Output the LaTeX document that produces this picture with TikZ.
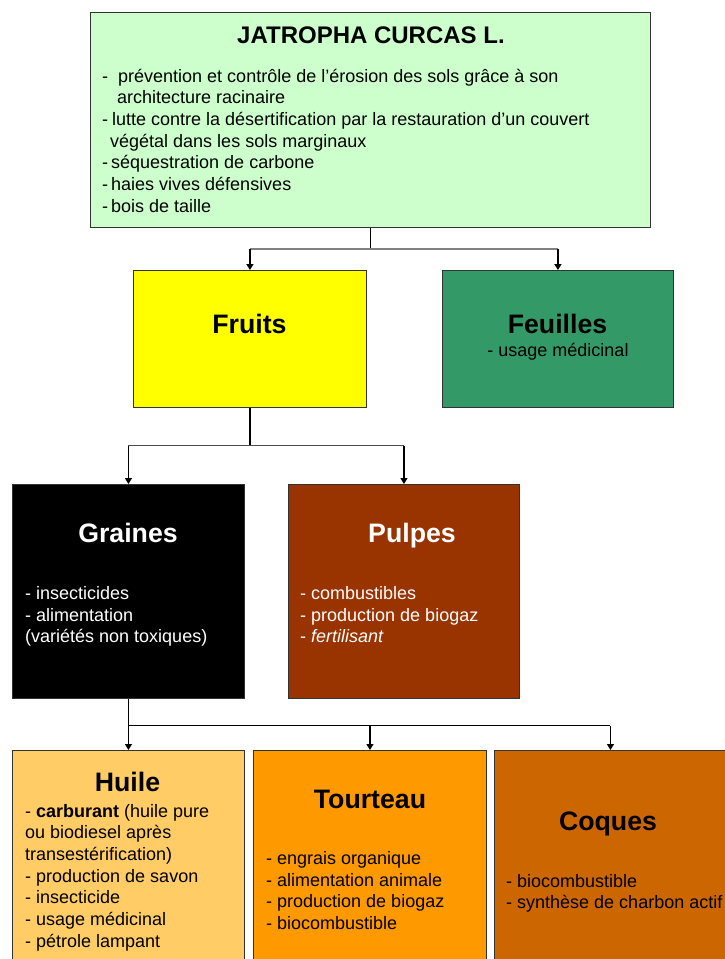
\documentclass[tikz,border=0pt]{standalone}
\usepackage{fontspec}
\setmainfont{Liberation Sans}
\usetikzlibrary{arrows.meta}
\definecolor{cTop}{HTML}{CCFFCC}
\definecolor{cFruit}{HTML}{FFFF00}
\definecolor{cLeaf}{HTML}{339966}
\definecolor{cPulp}{HTML}{993300}
\definecolor{cOil}{HTML}{FFCC66}
\definecolor{cCake}{HTML}{FF9900}
\definecolor{cHull}{HTML}{CC6600}
\definecolor{cLine}{HTML}{333333}
\newcommand{\bodyfont}{\fontsize{18}{21.7}\selectfont}
\newcommand{\txtlines}[2]{\parbox[t]{#1}{\bodyfont\raggedright #2}}
\begin{document}
\begin{tikzpicture}[x=1pt,y=-1pt,
  panel/.style={draw=cLine,line width=0.9pt,anchor=north west,inner sep=0pt},
  ttl/.style={anchor=base,inner sep=0pt,font=\fontsize{26.7}{30}\selectfont\bfseries},
  body/.style={anchor=base west,inner sep=0pt},
  stem/.style={draw=black,line width=1.1pt},
  hbar/.style={draw=black!50,line width=1.8pt},
  hbarthin/.style={draw=black!70,line width=1pt},
  drop/.style={draw=black,line width=1.1pt,-{Triangle[width=7pt,length=6pt]}}]
\useasboundingbox (0,0) rectangle (725,959);
\clip (0,0) rectangle (725,959);
\fill[white] (0,0) rectangle (725,959);
% boxes
\node[panel,fill=cTop,minimum width=560pt,minimum height=215pt] (top) at (90,12) {};
\node[panel,fill=cFruit,minimum width=233pt,minimum height=137pt] (fruits) at (133,270) {};
\node[panel,fill=cLeaf,minimum width=231pt,minimum height=137pt] (feuilles) at (442,270) {};
\node[panel,fill=black,minimum width=232pt,minimum height=214pt] (graines) at (12,484) {};
\node[panel,fill=cPulp,minimum width=231pt,minimum height=214pt] (pulpes) at (288,484) {};
\node[panel,fill=cOil,minimum width=232pt,minimum height=230pt] (huile) at (12,750) {};
\node[panel,fill=cCake,minimum width=233pt,minimum height=230pt] (tourteau) at (253,750) {};
\node[panel,fill=cHull,minimum width=232pt,minimum height=230pt] (coques) at (494,750) {};
% top texts
\node[ttl,font=\fontsize{24}{28}\selectfont\bfseries] (toptitle) at (371,43) {JATROPHA CURCAS L.};
\node[body] (topbody) at (102,82) {\txtlines{545pt}{%
-\hspace{10pt}prévention et contrôle de l'érosion des sols grâce à son\\
\hspace*{15pt}architecture racinaire\\
-\hspace{4pt}lutte contre la désertification par la restauration d'un couvert\\
\hspace*{8pt}végétal dans les sols marginaux\\
-\hspace{3pt}séquestration de carbone\\
-\hspace{3pt}haies vives défensives\\
-\hspace{3pt}bois de taille}};
% second level
\node[ttl] (fruitstitle) at (249.5,333) {Fruits};
\node[ttl] (feuillestitle) at (557.5,333) {Feuilles};
\node[anchor=base,inner sep=0pt,font=\bodyfont] (feuillesbody) at (558,356) {- usage médicinal};
% third level
\node[ttl,text=white] (grainestitle) at (128,542) {Graines};
\node[body,text=white] (grainesbody) at (25,599.5) {\txtlines{215pt}{%
- insecticides\\
- alimentation\\
(variétés non toxiques)}};
\node[ttl,text=white] (pulpestitle) at (412,542) {Pulpes};
\node[body,text=white] (pulpesbody) at (300,599.5) {\txtlines{215pt}{%
- combustibles\\
- production de biogaz\\
- \textit{fertilisant}}};
% fourth level
\node[ttl] (huiletitle) at (127.5,791) {Huile};
\node[body] (huilebody) at (25,817) {\txtlines{215pt}{%
- \textbf{carburant} (huile pure\\
ou biodiesel après\\
transestérification)\\
- production de savon\\
- insecticide\\
- usage médicinal\\
- pétrole lampant}};
\node[ttl] (tourteautitle) at (370,808.5) {Tourteau};
\node[body] (tourteaubody) at (266,864.5) {\txtlines{215pt}{%
- engrais organique\\
- alimentation animale\\
- production de biogaz\\
- biocombustible}};
\node[ttl] (coquestitle) at (608,830) {Coques};
\node[body] (coquesbody) at (506,887) {\txtlines{260pt}{%
- biocombustible\\
- synthèse de charbon actif}};
% connectors
\draw[stem] (top.south) -- ++(0,21) coordinate (j1);
\coordinate (j1a) at (j1 -| fruits.north);
\coordinate (j1b) at (j1 -| feuilles.north);
\draw[hbar] (j1a) -- (j1b);
\draw[drop,line width=1.6pt] (j1a) -- (fruits.north);
\draw[drop,line width=1.6pt] (j1b) -- (feuilles.north);
\draw[stem,line width=1.5pt] (fruits.south) -- ++(0,38) coordinate (j2);
\coordinate (j2a) at (j2 -| graines.north);
\coordinate (j2b) at (j2 -| pulpes.north);
\draw[hbarthin] (j2a) -- (j2b);
\draw[drop] (j2a) -- (graines.north);
\draw[drop] (j2b) -- (pulpes.north);
\draw[stem] (graines.south) -- ++(0,27) coordinate (j3);
\coordinate (j3b) at (j3 -| tourteau.north);
\coordinate (j3c) at (j3 -| coques.north);
\draw[stem] (j3) -- (j3c);
\draw[drop] (j3) -- (huile.north);
\draw[drop] (j3b) -- (tourteau.north);
\draw[drop] (j3c) -- (coques.north);
\end{tikzpicture}
\end{document}
